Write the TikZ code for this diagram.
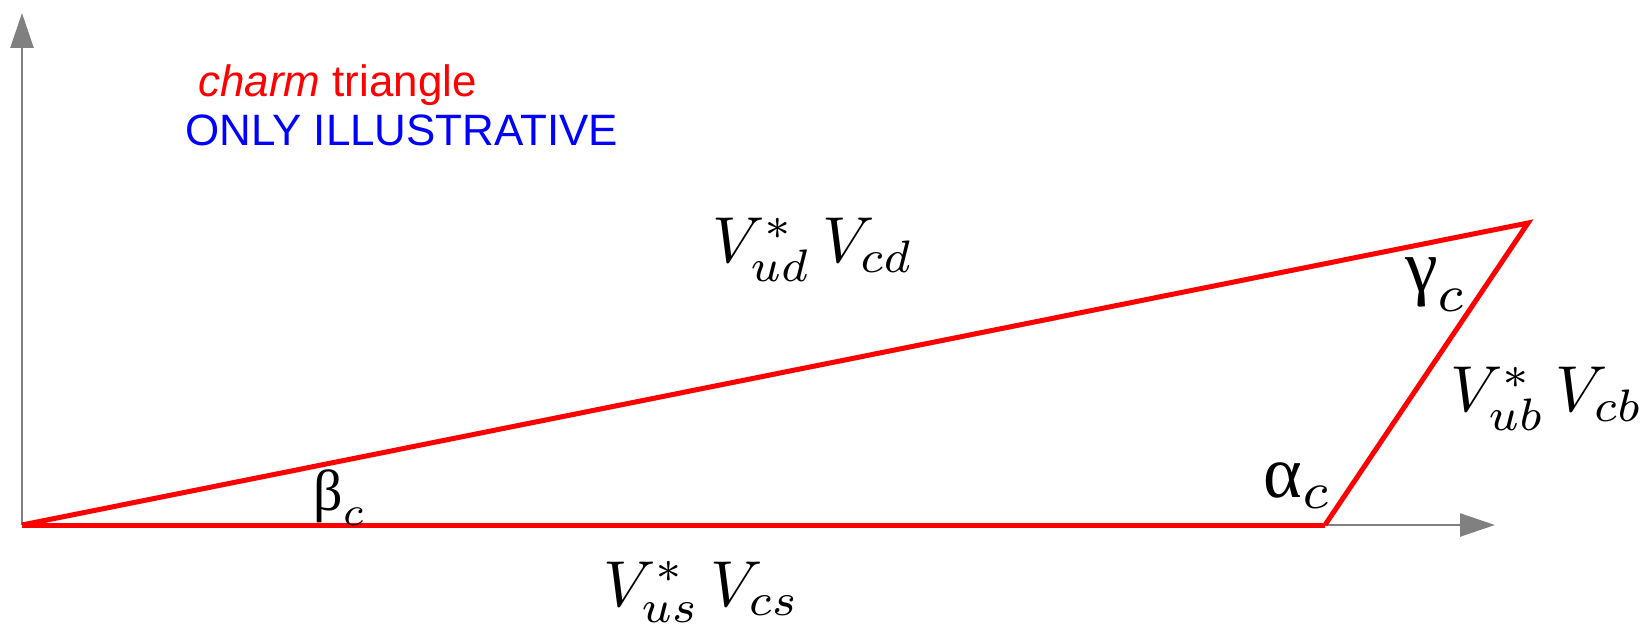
\documentclass[tikz,border=0pt]{standalone}
\usepackage{fontspec}
\usepackage{xcolor}
\usepackage{graphicx}
\usepackage{tikz}
\usetikzlibrary{positioning,arrows.meta}
\newfontfamily\notefont{Liberation Sans}
\newfontfamily\greekfont{Liberation Serif}

\begin{document}
\begin{tikzpicture}[x=0.02cm, y=-0.02cm,
		axis/.style={gray, line width=0.05cm, -{Triangle[length=0.7cm,width=0.46cm]}},
		side/.style={red, line width=0.1cm},
		lbl/.style={anchor=base west, inner sep=0pt},
		note/.style={anchor=base west, inner sep=0pt, font=\notefont\fontsize{25}{30}\selectfont}]
				\useasboundingbox (0,0) rectangle (1651,628);
				
				\coordinate (O) at (22,525);
				\coordinate (B) at (1325,525);
				\coordinate (C) at (1528,223);
				\coordinate (xend) at (1495,525);
				\coordinate (yend) at (22,13);
				
				\draw[axis] (O) -- (yend);
				\draw[axis] (O) -- (xend);
				
				\draw[side] (O) -- (B);
				\draw[side, line join=miter] (O) -- (C) -- (B);
				
				\node[lbl] (vud) at (712,263) {\scalebox{3.7}{$V^*_{ud}\,V_{cd}$}};
				\node[lbl] (vus) at (603,606) {\scalebox{3.7}{$V^*_{us}\,V_{cs}$}};
				\node[lbl] (vub) at (1450,412) {\scalebox{3.7}{$V^*_{ub}\,V_{cb}$}};
				
				\node[lbl] (beta) at (313,510) {\scalebox{3.3}{$\mbox{\greekfont β}_c$}};
				\node[lbl] (alpha) at (1263,497) {\scalebox{4.2}{$\mbox{\greekfont α}_c$}};
				\node[lbl] (gamma) at (1405,292) {\scalebox{4.2}{$\mbox{\greekfont γ}_c$}};
				
				\node[note, red] (title) at (198,97) {\textit{charm} triangle};
				\node[note, blue] (warn) at (185,146) {ONLY ILLUSTRATIVE};
			\end{tikzpicture}
\end{document}
